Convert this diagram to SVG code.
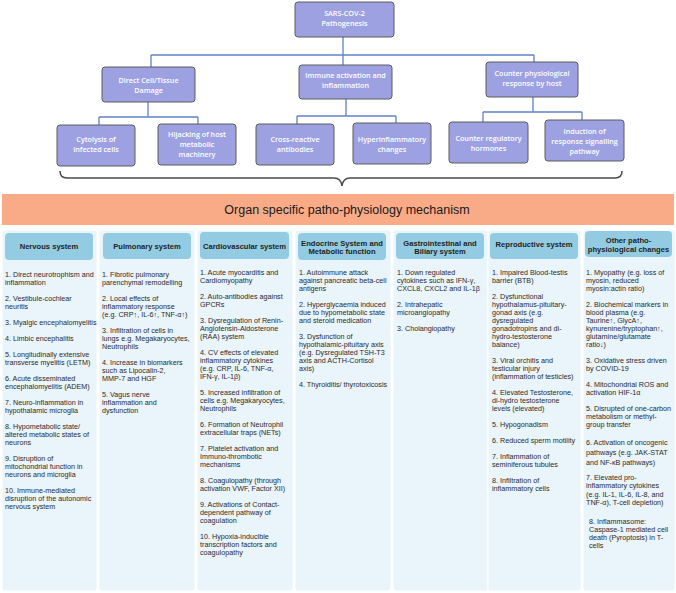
<svg xmlns="http://www.w3.org/2000/svg" width="676" height="593" viewBox="0 0 676 593">
<defs>
<style>
.box{fill:#9DA1E2;stroke:#5c5c5c;stroke-width:1}
.bt{font-family:"Open Sans","Liberation Sans",Arial,sans-serif;font-weight:600;font-size:7.2px;fill:#ffffff;text-anchor:middle}
.conn{stroke:#5F82C6;stroke-width:1.3;fill:none}
.brace{stroke:#4a4a4a;stroke-width:1.5;fill:none}
.panel{fill:#EAF4FB;stroke:#ffffff;stroke-width:1}
.hdr{fill:#93CCE2}
.ht{font-family:"Liberation Sans",Arial,sans-serif;font-weight:bold;font-size:7.6px;fill:#1e1e1e;text-anchor:middle}
.tx{font-family:"Liberation Sans",Arial,sans-serif;font-size:7.2px;fill:#2a2a2a}
</style>
</defs>
<rect width="676" height="593" fill="#ffffff"/>

<g id="connectors">
<path class="conn" d="M343,37V65M151,55H534M151,55V67M534,55V62"/>
<path class="conn" d="M148,102V117M99,117H198M99,117V125M198,117V124"/>
<path class="conn" d="M346,99V116M297,116H396M297,116V124M396,116V123"/>
<path class="conn" d="M533,97V112M483,112H582M483,112V122M582,112V120"/>
</g>

<g id="root"><rect class="box" x="295" y="2" width="99" height="35" rx="3"/><text class="bt" x="344.5" y="15.6">SARS-COV-2</text><text class="bt" x="344.5" y="25.6">Pathogenesis</text></g>
<g id="direct"><rect class="box" x="102" y="67" width="93" height="35" rx="3"/><text class="bt" x="148.5" y="82.6">Direct Cell/Tissue</text><text class="bt" x="148.5" y="92.6">Damage</text></g>
<g id="immune"><rect class="box" x="299" y="65" width="93" height="34" rx="3"/><text class="bt" x="345.5" y="77.6">Immune activation and</text><text class="bt" x="345.5" y="87.6">inflammation</text></g>
<g id="counter"><rect class="box" x="486" y="62" width="92" height="35" rx="3"/><text class="bt" x="532" y="75.6">Counter physiological</text><text class="bt" x="532" y="85.6">response by host</text></g>
<g id="cytolysis"><rect class="box" x="57" y="125" width="78" height="41" rx="3"/><text class="bt" x="96" y="141.6">Cytolysis of</text><text class="bt" x="96" y="151.6">infected cells</text></g>
<g id="hijacking"><rect class="box" x="158" y="124" width="78" height="41" rx="3"/><text class="bt" x="197" y="136.6">Hijacking of host</text><text class="bt" x="197" y="146.6">metabolic</text><text class="bt" x="197" y="156.6">machinery</text></g>
<g id="crossreactive"><rect class="box" x="256" y="124" width="78" height="41" rx="3"/><text class="bt" x="295" y="141.6">Cross-reactive</text><text class="bt" x="295" y="151.6">antibodies</text></g>
<g id="hyperinflammatory"><rect class="box" x="353" y="123" width="78" height="41" rx="3"/><text class="bt" x="392" y="141.6">Hyperinflammatory</text><text class="bt" x="392" y="151.6">changes</text></g>
<g id="counterreg"><rect class="box" x="449" y="122" width="79" height="41" rx="3"/><text class="bt" x="488.5" y="140.6">Counter regulatory</text><text class="bt" x="488.5" y="150.6">hormones</text></g>
<g id="induction"><rect class="box" x="545" y="120" width="79" height="41" rx="3"/><text class="bt" x="584.5" y="133.6">Induction of</text><text class="bt" x="584.5" y="143.6">response signalling</text><text class="bt" x="584.5" y="153.6">pathway</text></g>

<g id="brace"><path class="brace" d="M60,171Q60,178 67,178L334,178Q341,178 342,186Q343,178 350,178L615,178Q622,178 622,171"/></g>

<g id="banner"><rect x="2" y="194" width="672" height="31" fill="#F9AB88"/><text x="347" y="213.5" text-anchor="middle" font-family="Liberation Sans, Arial, sans-serif" font-size="12.5" fill="#1a1a1a">Organ specific patho-physiology mechanism</text></g>

<g id="nervous">
<rect class="panel" x="2" y="230" width="95" height="361" rx="3"/>
<rect class="hdr" x="5" y="233" width="88" height="27" rx="4"/>
<text class="ht" x="49" y="249">Nervous system</text>
<text class="tx" y="276.6"><tspan x="5">1. Direct neurotrophism and</tspan><tspan x="5" dy="8">inflammation</tspan><tspan x="5" dy="16">2. Vestibule-cochlear</tspan><tspan x="5" dy="8">neuritis</tspan><tspan x="5" dy="16">3. Myalgic encephalomyelitis</tspan><tspan x="5" dy="16">4. Limbic encephalitis</tspan><tspan x="5" dy="16">5. Longitudinally extensive</tspan><tspan x="5" dy="8">transverse myelitis (LETM)</tspan><tspan x="5" dy="16">6. Acute disseminated</tspan><tspan x="5" dy="8">encephalomyelitis (ADEM)</tspan><tspan x="5" dy="16">7. Neuro-inflammation in</tspan><tspan x="5" dy="8">hypothalamic microglia</tspan><tspan x="5" dy="16">8. Hypometabolic state/</tspan><tspan x="5" dy="8">altered metabolic states of</tspan><tspan x="5" dy="8">neurons</tspan><tspan x="5" dy="16">9. Disruption of</tspan><tspan x="5" dy="8">mitochondrial function in</tspan><tspan x="5" dy="8">neurons and microglia</tspan><tspan x="5" dy="16">10. Immune-mediated</tspan><tspan x="5" dy="8">disruption of the autonomic</tspan><tspan x="5" dy="8">nervous system</tspan></text>
</g>

<g id="pulmonary">
<rect class="panel" x="99" y="230" width="96" height="361" rx="3"/>
<rect class="hdr" x="103" y="233" width="88" height="26" rx="4"/>
<text class="ht" x="147" y="248.7">Pulmonary system</text>
<text class="tx" y="277"><tspan x="102">1. Fibrotic pulmonary</tspan><tspan x="102" dy="8">parenchymal remodelling</tspan><tspan x="102" dy="16">2. Local effects of</tspan><tspan x="102" dy="8">inflammatory response</tspan><tspan x="102" dy="8">(e.g. CRP↑, IL-6↑, TNF-α↑)</tspan><tspan x="102" dy="16">3. Infiltration of cells in</tspan><tspan x="102" dy="8">lungs e.g. Megakaryocytes,</tspan><tspan x="102" dy="8">Neutrophils</tspan><tspan x="102" dy="16">4. Increase in biomarkers</tspan><tspan x="102" dy="8">such as Lipocalin-2,</tspan><tspan x="102" dy="8">MMP-7 and HGF</tspan><tspan x="102" dy="16">5. Vagus nerve</tspan><tspan x="102" dy="8">inflammation and</tspan><tspan x="102" dy="8">dysfunction</tspan></text>
</g>

<g id="cardiovascular">
<rect class="panel" x="197" y="230" width="96" height="361" rx="3"/>
<rect class="hdr" x="200" y="232" width="89" height="27" rx="4"/>
<text class="ht" x="244.5" y="248.5">Cardiovascular system</text>
<text class="tx" y="274.6"><tspan x="200">1. Acute myocarditis and</tspan><tspan x="200" dy="8">Cardiomyopathy</tspan><tspan x="200" dy="16">2. Auto-antibodies against</tspan><tspan x="200" dy="8">GPCRs</tspan><tspan x="200" dy="16">3. Dysregulation of Renin-</tspan><tspan x="200" dy="8">Angiotensin-Aldosterone</tspan><tspan x="200" dy="8">(RAA) system</tspan><tspan x="200" dy="16">4. CV effects of elevated</tspan><tspan x="200" dy="8">inflammatory cytokines</tspan><tspan x="200" dy="8">(e.g. CRP, IL-6, TNF-α,</tspan><tspan x="200" dy="8">IFN-γ, IL-1β)</tspan><tspan x="200" dy="16">5. Increased infiltration of</tspan><tspan x="200" dy="8">cells e.g. Megakaryocytes,</tspan><tspan x="200" dy="8">Neutrophils</tspan><tspan x="200" dy="16">6. Formation of Neutrophil</tspan><tspan x="200" dy="8">extracellular traps (NETs)</tspan><tspan x="200" dy="16">7. Platelet activation and</tspan><tspan x="200" dy="8">Immuno-thrombotic</tspan><tspan x="200" dy="8">mechanisms</tspan><tspan x="200" dy="16">8. Coagulopathy (through</tspan><tspan x="200" dy="8">activation VWF, Factor XII)</tspan><tspan x="200" dy="16">9. Activations of Contact-</tspan><tspan x="200" dy="8">dependent pathway of</tspan><tspan x="200" dy="8">coagulation</tspan><tspan x="200" dy="16">10. Hypoxia-inducible</tspan><tspan x="200" dy="8">transcription factors and</tspan><tspan x="200" dy="8">coagulopathy</tspan></text>
</g>

<g id="endocrine">
<rect class="panel" x="295" y="230" width="96" height="361" rx="3"/>
<rect class="hdr" x="298" y="233" width="88" height="27" rx="4"/>
<text class="ht" x="342" y="245.5">Endocrine System and</text>
<text class="ht" x="342" y="254">Metabolic function</text>
<text class="tx" y="274.6"><tspan x="299">1. Autoimmune attack</tspan><tspan x="299" dy="8">against pancreatic beta-cell</tspan><tspan x="299" dy="8">antigens</tspan><tspan x="299" dy="16">2. Hyperglycaemia induced</tspan><tspan x="299" dy="8">due to hypometabolic state</tspan><tspan x="299" dy="8">and steroid medication</tspan><tspan x="299" dy="16">3. Dysfunction of</tspan><tspan x="299" dy="8">hypothalamic-pituitary axis</tspan><tspan x="299" dy="8">(e.g. Dysregulated TSH-T3</tspan><tspan x="299" dy="8">axis and ACTH-Cortisol</tspan><tspan x="299" dy="8">axis)</tspan><tspan x="299" dy="16">4. Thyroiditis/ thyrotoxicosis</tspan></text>
</g>

<g id="gastrointestinal">
<rect class="panel" x="393" y="230" width="95" height="361" rx="3"/>
<rect class="hdr" x="396" y="233" width="88" height="26" rx="4"/>
<text class="ht" x="440" y="245.5">Gastrointestinal and</text>
<text class="ht" x="440" y="254">Biliary system</text>
<text class="tx" y="274.6"><tspan x="397">1. Down regulated</tspan><tspan x="397" dy="8">cytokines such as IFN-γ,</tspan><tspan x="397" dy="8">CXCL8, CXCL2 and IL-1β</tspan><tspan x="397" dy="16">2. Intrahepatic</tspan><tspan x="397" dy="8">microangiopathy</tspan><tspan x="397" dy="16">3. Cholangiopathy</tspan></text>
</g>

<g id="reproductive">
<rect class="panel" x="488" y="230" width="93" height="361" rx="3"/>
<rect class="hdr" x="490" y="233" width="88" height="26" rx="4"/>
<text class="ht" x="534" y="247.2">Reproductive system</text>
<text class="tx" y="274.6"><tspan x="492">1. Impaired Blood-testis</tspan><tspan x="492" dy="8">barrier (BTB)</tspan><tspan x="492" dy="16">2. Dysfunctional</tspan><tspan x="492" dy="8">hypothalamus-pituitary-</tspan><tspan x="492" dy="8">gonad axis (e.g.</tspan><tspan x="492" dy="8">dysregulated</tspan><tspan x="492" dy="8">gonadotropins and di-</tspan><tspan x="492" dy="8">hydro-testosterone</tspan><tspan x="492" dy="8">balance)</tspan><tspan x="492" dy="16">3. Viral orchitis and</tspan><tspan x="492" dy="8">testicular injury</tspan><tspan x="492" dy="8">(inflammation of testicles)</tspan><tspan x="492" dy="16">4. Elevated Testosterone,</tspan><tspan x="492" dy="8">di-hydro testosterone</tspan><tspan x="492" dy="8">levels (elevated)</tspan><tspan x="492" dy="16">5. Hypogonadism</tspan><tspan x="492" dy="16">6. Reduced sperm motility</tspan><tspan x="492" dy="16">7. Inflammation of</tspan><tspan x="492" dy="8">seminiferous tubules</tspan><tspan x="492" dy="16">8. Infiltration of</tspan><tspan x="492" dy="8">inflammatory cells</tspan></text>
</g>

<g id="other">
<rect class="panel" x="583" y="230" width="92" height="361" rx="3"/>
<rect class="hdr" x="585" y="231" width="87" height="26" rx="4"/>
<text class="ht" x="628.5" y="243">Other patho-</text>
<text class="ht" x="628.5" y="251.7">physiological changes</text>
<text class="tx" y="274.6"><tspan x="586">1. Myopathy (e.g. loss of</tspan><tspan x="586" dy="8">myosin, reduced</tspan><tspan x="586" dy="8">myosin:actin ratio)</tspan><tspan x="586" dy="16">2. Biochemical markers in</tspan><tspan x="586" dy="8">blood plasma (e.g.</tspan><tspan x="586" dy="8">Taurine↑, GlycA↑,</tspan><tspan x="586" dy="8">kynurenine/tryptophan↑,</tspan><tspan x="586" dy="8">glutamine/glutamate</tspan><tspan x="586" dy="8">ratio↓)</tspan><tspan x="586" dy="16">3. Oxidative stress driven</tspan><tspan x="586" dy="8">by COVID-19</tspan><tspan x="586" dy="16">4. Mitochondrial ROS and</tspan><tspan x="586" dy="8">activation HIF-1α</tspan><tspan x="586" dy="16">5. Disrupted of one-carbon</tspan><tspan x="586" dy="8">metabolism or methyl-</tspan><tspan x="586" dy="8">group transfer</tspan></text>
<text class="tx" y="444.5"><tspan x="586">6. Activation of oncogenic</tspan><tspan x="586" dy="10">pathways (e.g. JAK-STAT</tspan><tspan x="586" dy="10">and NF-κB pathways)</tspan><tspan x="586" dy="15">7. Elevated pro-</tspan><tspan x="586" dy="8.5">inflammatory cytokines</tspan><tspan x="586" dy="8.5">(e.g. IL-1, IL-6, IL-8, and</tspan><tspan x="586" dy="8.5">TNF-α), T-cell depletion)</tspan></text>
<text class="tx" y="523.5"><tspan x="589">8. Inflammasome:</tspan><tspan x="589" dy="8">Caspase-1 mediated cell</tspan><tspan x="589" dy="8">death (Pyroptosis) in T-</tspan><tspan x="589" dy="8">cells</tspan></text>
</g>
</svg>
